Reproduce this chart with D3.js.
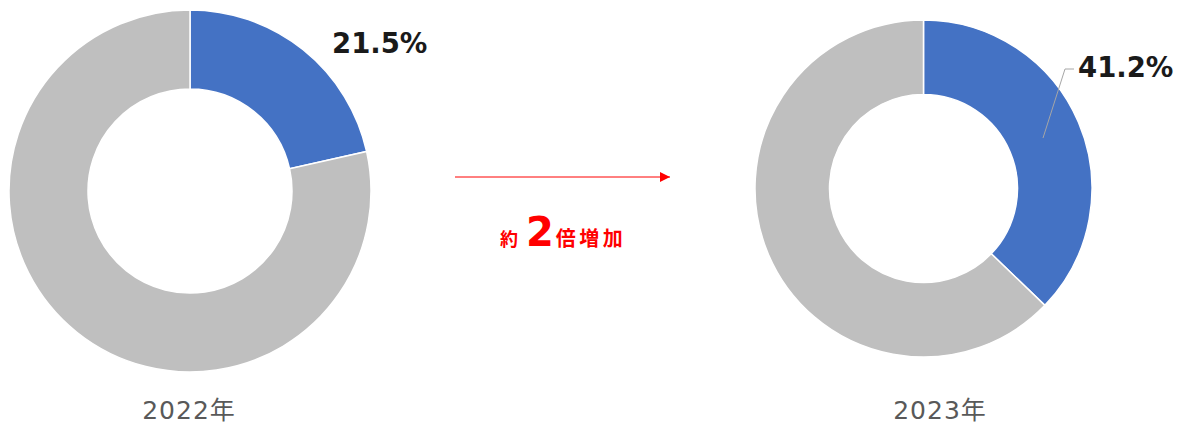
<!DOCTYPE html>
<html>
<head>
<meta charset="utf-8">
<script src="https://cdn.jsdelivr.net/npm/d3@7"></script>
<style>
  html, body { margin: 0; padding: 0; background: #ffffff; }
  svg { display: block; }
</style>
</head>
<body>
<svg id="chart" width="1188" height="425"></svg>
<script>
// ---- data ----
const years = ["2022年", "2023年"];
const shareValues = [21.5, 37.2];          // slice sizes as drawn (%)
const shareLabels = ["21.5%", "41.2%"];     // data label texts
const segmentNames = ["該当", "その他"];
const arrowText = ["約", "2", "倍増加"];

// ---- layout ----
const W = 1188, H = 425;
const donuts = [
  { cx: 190, cy: 191, r: 181, ir: 102, labelX: 189, labelY: 419,
    pctX: 332, pctY: 53, leader: null },
  { cx: 923.5, cy: 188.5, r: 168.5, ir: 94, labelX: 940, labelY: 419,
    pctX: 1078, pctY: 77, leader: [[1043, 138], [1065, 69], [1074, 69]] }
];
const colors = d3.scaleOrdinal().domain(segmentNames).range(["#4472C4", "#BFBFBF"]);

const svg = d3.select("#chart");
const pie = d3.pie().sort(null).value(d => d.v);

years.forEach((yr, i) => {
  const L = donuts[i];
  const data = [{ k: segmentNames[0], v: shareValues[i] }, { k: segmentNames[1], v: 100 - shareValues[i] }];
  const arc = d3.arc().innerRadius(L.ir).outerRadius(L.r);
  const g = svg.append("g").attr("transform", `translate(${L.cx},${L.cy})`);
  g.selectAll("path").data(pie(data)).join("path")
    .attr("d", arc)
    .attr("fill", d => colors(d.data.k))
    .attr("stroke", "#ffffff")
    .attr("stroke-width", 1.5);

  if (L.leader) {
    svg.append("path")
      .attr("d", d3.line()(L.leader))
      .attr("fill", "none")
      .attr("stroke", "#A6A6A6")
      .attr("stroke-width", 1);
  }

  svg.append("text")
    .attr("x", L.pctX).attr("y", L.pctY)
    .attr("font-family", "'DejaVu Sans', Verdana, sans-serif")
    .attr("font-weight", "bold")
    .attr("font-size", 27.5)
    .attr("fill", "#1a1a1a")
    .text(shareLabels[i]);

  svg.append("text")
    .attr("x", L.labelX).attr("y", L.labelY)
    .attr("text-anchor", "middle")
    .attr("font-family", "'DejaVu Sans', 'Noto Sans CJK JP', sans-serif")
    .attr("font-size", 25)
    .attr("letter-spacing", 1)
    .attr("fill", "#595959")
    .text(yr);
});

// ---- arrow ----
const defs = svg.append("defs");
defs.append("marker")
  .attr("id", "ah").attr("viewBox", "0 0 10 10")
  .attr("refX", 10).attr("refY", 5)
  .attr("markerWidth", 12).attr("markerHeight", 10)
  .attr("markerUnits", "userSpaceOnUse")
  .attr("orient", "auto")
  .append("path").attr("d", "M0,0 L10,5 L0,10 Z").attr("fill", "#FF0000");

svg.append("line")
  .attr("x1", 455).attr("y1", 177).attr("x2", 670).attr("y2", 177)
  .attr("stroke", "#FF0000").attr("stroke-width", 1)
  .attr("marker-end", "url(#ah)");

const t = svg.append("text")
  .attr("x", 500).attr("y", 246)
  .attr("font-family", "'Noto Sans CJK JP', 'DejaVu Sans', sans-serif")
  .attr("font-weight", "bold")
  .attr("fill", "#FF0000");
t.append("tspan").attr("font-size", 18).text(arrowText[0]);
t.append("tspan").attr("dx", 8).attr("font-size", 40).attr("font-family", "'DejaVu Sans', sans-serif").text(arrowText[1]);
t.append("tspan").attr("dx", 2).attr("font-size", 20).attr("letter-spacing", 3.5).text(arrowText[2]);
</script>
</body>
</html>
